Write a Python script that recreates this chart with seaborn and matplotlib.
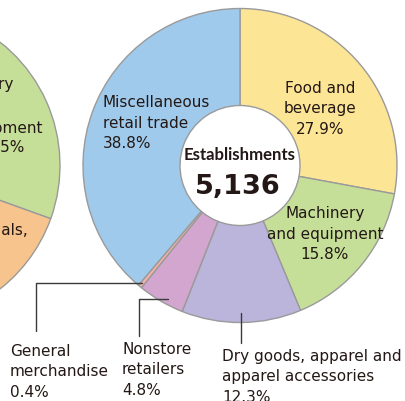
import matplotlib
matplotlib.use("Agg")
import matplotlib.pyplot as plt
from matplotlib import font_manager as fm
from matplotlib.textpath import TextPath
import seaborn as sns

# ---- data ----
categories = ["Food and beverage", "Machinery and equipment",
              "Dry goods, apparel and apparel accessories", "Nonstore retailers",
              "General merchandise", "Miscellaneous retail trade"]
shares = [27.9, 15.8, 12.3, 4.8, 0.4, 38.8]
colors = ["#FDE596", "#C5DF99", "#BBB4DB", "#D2A6CE", "#F3B2AA", "#A0CAEC"]
total_label = "Establishments"
total_value = "5,136"

left_categories = ["Other A", "Machinery and equipment",
                   "Building materials, minerals and metals", "Other B"]
left_shares = [6.0, 24.5, 20.0, 49.5]
left_colors = ["#FDE596", "#C5DF99", "#F8C48D", "#A0CAEC"]

sns.set_theme(style="white")
plt.rcParams["font.family"] = ["DejaVu Sans"]

W, H = 405, 401
fig = plt.figure(figsize=(W / 100, H / 100), dpi=100)
ax = fig.add_axes([0, 0, 1, 1])

def Y(y):
    return H - y

R, HOLE = 157, 60
edge = dict(width=R - HOLE, edgecolor="#9a9a9a", linewidth=1.0)

ax.pie(left_shares, colors=left_colors, center=(-97, Y(165.5)), radius=R,
       startangle=90, counterclock=False, wedgeprops=edge)
ax.pie(shares, colors=colors, center=(240, Y(165.5)), radius=R,
       startangle=90, counterclock=False, wedgeprops=edge)

ax.set_xlim(0, W)
ax.set_ylim(0, H)
ax.set_aspect("auto")
ax.axis("off")

fs = 11.0
tc = "#231815"
ls = 1.46

# main labels
ax.text(320, Y(109), f"Food and\nbeverage\n{shares[0]}%", ha="center", va="center",
        fontsize=fs, color=tc, linespacing=ls)
ax.text(325, Y(234), f"Machinery\nand equipment\n{shares[1]}%", ha="center", va="center",
        fontsize=fs, color=tc, linespacing=ls)
ax.text(103, Y(123), f"Miscellaneous\nretail trade\n{shares[5]}%", ha="left", va="center",
        fontsize=fs, color=tc, linespacing=ls)
ax.text(10, Y(372), f"General\nmerchandise\n{shares[4]}%", ha="left", va="center",
        fontsize=fs, color=tc, linespacing=ls)
ax.text(122, Y(370), f"Nonstore\nretailers\n{shares[3]}%", ha="left", va="center",
        fontsize=fs, color=tc, linespacing=ls)
ax.text(222, Y(377), f"Dry goods, apparel and\napparel accessories\n{shares[2]}%",
        ha="left", va="center", fontsize=fs, color=tc, linespacing=ls)

# left (cut-off) chart labels
ax.text(14, Y(85), "Machinery", ha="right", va="center", fontsize=fs, color=tc)
ax.text(42, Y(128), "and equipment", ha="right", va="center", fontsize=fs, color=tc)
ax.text(25, Y(148), f"{left_shares[1]}%", ha="right", va="center", fontsize=fs, color=tc)
ax.text(28, Y(231), "Building materials,", ha="right", va="center", fontsize=fs, color=tc)

# centre text: choose the narrowest installed bold face (ink width / ink height)
best = None
for fam in ["Noto Sans CJK JP", "Roboto", "Lato", "Liberation Sans", "Open Sans",
            "Inter", "Noto Sans", "DejaVu Sans"]:
    try:
        path = fm.findfont(fm.FontProperties(family=fam, weight="bold"),
                           fallback_to_default=False)
    except Exception:
        continue
    try:
        fp = fm.FontProperties(fname=path, size=100)
        ext = TextPath((0, 0), total_label, prop=fp).get_extents()
    except Exception:
        continue
    ratio = ext.width / ext.height
    if best is None or ratio < best[0]:
        best = (ratio, path, ext.width)

target_w = 111  # pixels
if best:
    size_px = 100 * target_w / best[2]
    eprops = fm.FontProperties(fname=best[1], size=size_px * 72 / 100)
else:
    eprops = fm.FontProperties(family="DejaVu Sans", size=9, weight="bold")
ax.text(239.5, Y(155), total_label, ha="center", va="center",
        fontproperties=eprops, color=tc)

ax.text(238, Y(187), total_value, ha="center", va="center", fontsize=19.5,
        fontweight="bold", color=tc)

# leader lines
lc = "#3a3a3a"
ax.plot([36, 36, 142], [Y(331), Y(283), Y(283)], color=lc, lw=1.0)
ax.plot([139, 139, 168], [Y(336), Y(299), Y(299)], color=lc, lw=1.0)
ax.plot([241, 241], [Y(313), Y(343)], color=lc, lw=1.0)

fig.savefig("out.png", dpi=100)
